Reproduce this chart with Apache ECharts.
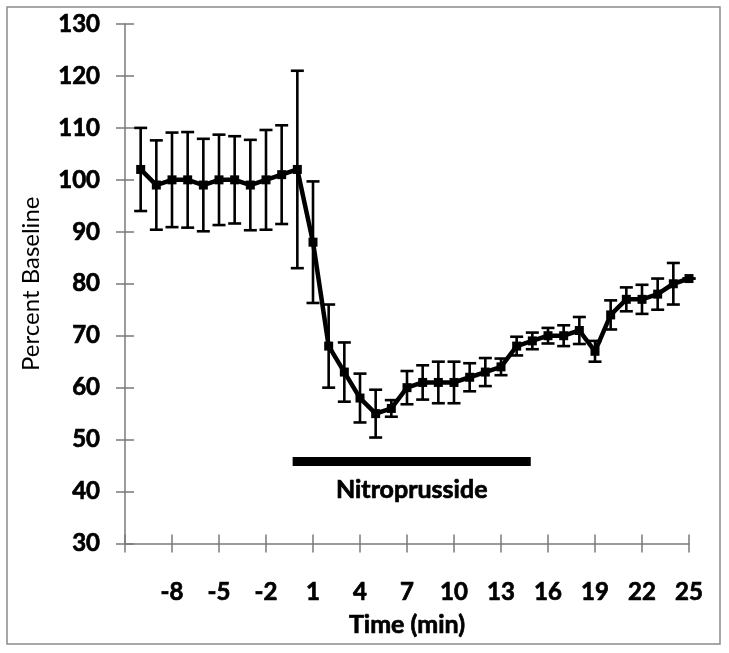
<!DOCTYPE html>
<html>
<head>
<meta charset="utf-8">
<script src="https://cdn.jsdelivr.net/npm/echarts@6/dist/echarts.min.js"></script>
<style>html,body{margin:0;padding:0;background:#fff;}#c{width:729px;height:653px;}</style>
</head>
<body>
<div id="c"></div>
<script>
// Time points (min)
var times = [-10,-9,-8,-7,-6,-5,-4,-3,-2,-1,0,1,2,3,4,5,6,7,8,9,10,11,12,13,14,15,16,17,18,19,20,21,22,23,24,25];
// Percent baseline (mean)
var means = [102,99,100,100,99,100,100,99,100,101,102,88,68,63,58,55,56,60,61,61,61,62,63,64,68,69,70,70,71,67,74,77,77,78,80,81];
// Error (half-length of bar)
var errs  = [8,8.6,9.1,9.2,8.9,8.7,8.4,8.7,9.6,9.5,19,11.7,8,5.7,4.7,4.6,1.6,3.2,3.3,4,4,2.7,2.7,1.6,1.8,1.6,1.5,2,2.6,2,2.8,2.3,2.8,3,4,0];
// Tick labels
var xTickValues = [-11,-8,-5,-2,1,4,7,10,13,16,19,22,25];
var xLabelValues = [-8,-5,-2,1,4,7,10,13,16,19,22,25];
// Nitroprusside infusion bar
var nitroStart = -0.3, nitroEnd = 14.9, nitroLevel = 45.8;
var nitroLabel = 'Nitroprusside';

var FONT = 'Lato';
var axisColor = '#7a7a7a';
var heavy = {textBorderColor:'#000', textBorderWidth:0.7};

var lineData = times.map(function(t,i){return [t, means[i]];});
var errData = times.map(function(t,i){return [t, means[i]-errs[i], means[i]+errs[i]];});

function bold(obj){ return Object.assign(obj, heavy); }

var chart = echarts.init(document.getElementById('c'), null, {renderer:'canvas'});
chart.setOption({
  backgroundColor:'#fff',
  animation:false,
  grid:{left:125, right:40, top:24, bottom:109.5, containLabel:false},
  xAxis:[{
    type:'value', min:-11, max:25,
    name:'Time (min)', nameLocation:'middle', nameGap:69,
    nameTextStyle:bold({fontFamily:FONT, fontWeight:'bold', fontSize:25, color:'#000'}),
    axisLine:{onZero:false, lineStyle:{color:axisColor, width:1.5}},
    axisTick:{show:true, length:9, customValues:xTickValues, lineStyle:{color:axisColor, width:1.5}},
    axisLabel:bold({customValues:xLabelValues, margin:37, fontFamily:FONT, fontWeight:'bold', fontSize:24, color:'#000'}),
    splitLine:{show:false}
  },{
    type:'value', min:-11, max:25, position:'bottom',
    axisLine:{show:false, onZero:false},
    axisTick:{show:true, inside:true, length:9, customValues:xTickValues, lineStyle:{color:axisColor, width:1.5}},
    axisLabel:{show:false},
    splitLine:{show:false}
  }],
  yAxis:[{
    type:'value', min:30, max:130, interval:10,
    name:'Percent Baseline', nameLocation:'middle', nameGap:82, nameRotate:90,
    nameTextStyle:{fontFamily:FONT, fontSize:24, color:'#000'},
    axisLine:{show:true, onZero:false, lineStyle:{color:axisColor, width:1.5}},
    axisTick:{show:true, length:9, lineStyle:{color:axisColor, width:1.5}},
    axisLabel:bold({margin:25, fontFamily:FONT, fontWeight:'bold', fontSize:24, color:'#000'}),
    splitLine:{show:false}
  },{
    type:'value', min:30, max:130, interval:10, position:'left',
    axisLine:{show:false, onZero:false},
    axisTick:{show:true, inside:true, length:9, lineStyle:{color:axisColor, width:1.5}},
    axisLabel:{show:false},
    splitLine:{show:false}
  }],
  series:[{
    type:'custom',
    data:errData,
    z:2,
    renderItem:function(params, api){
      var x = api.value(0), lo = api.value(1), hi = api.value(2);
      var pLo = api.coord([x, lo]), pHi = api.coord([x, hi]);
      var cap = 6.5;
      var st = {stroke:'#000', lineWidth:2.6};
      return {type:'group', children:[
        {type:'line', shape:{x1:pLo[0], y1:pLo[1], x2:pHi[0], y2:pHi[1]}, style:st},
        {type:'line', shape:{x1:pLo[0]-cap, y1:pLo[1], x2:pLo[0]+cap, y2:pLo[1]}, style:st},
        {type:'line', shape:{x1:pHi[0]-cap, y1:pHi[1], x2:pHi[0]+cap, y2:pHi[1]}, style:st}
      ]};
    }
  },{
    type:'line',
    data:lineData,
    z:3,
    symbol:'rect', symbolSize:9,
    itemStyle:{color:'#000'},
    lineStyle:{color:'#000', width:4.5},
    emphasis:{disabled:true}
  },{
    type:'line',
    data:[[nitroStart, nitroLevel],[nitroEnd, nitroLevel]],
    z:3,
    symbol:'none',
    lineStyle:{color:'#000', width:9, cap:'butt'},
    markPoint:{
      symbol:'rect', symbolSize:1, itemStyle:{color:'transparent'},
      label:bold({show:true, position:'inside', offset:[0,29], formatter:nitroLabel, fontFamily:FONT, fontWeight:'bold', fontSize:25, color:'#000'}),
      data:[{coord:[(nitroStart+nitroEnd)/2, nitroLevel]}]
    },
    emphasis:{disabled:true}
  }],
  graphic:[{
    type:'rect', shape:{x:7, y:7, width:713, height:637},
    style:{fill:'none', stroke:'#8a8a8a', lineWidth:1.5}, z:-1
  }]
});
</script>
</body>
</html>
